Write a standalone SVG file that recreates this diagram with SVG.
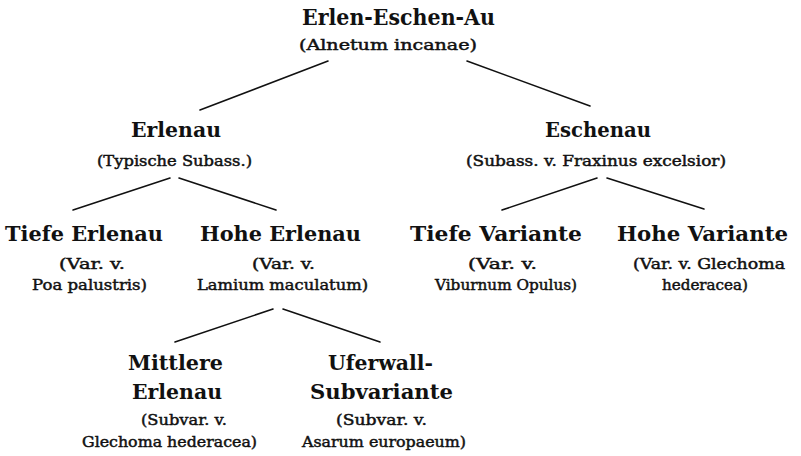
<svg xmlns="http://www.w3.org/2000/svg" width="801" height="456" viewBox="0 0 801 456">
<style>
text{fill:#111;font-family:"DejaVu Serif","Liberation Serif",serif}
.t{font-size:23px;font-weight:bold}
.b{font-size:20px;font-weight:bold}
.s{font-size:14px;stroke:#111;stroke-width:0.45}
line{stroke:#111;stroke-width:1.6;stroke-linecap:round}
</style>
<rect width="801" height="456" fill="#fff"/>
<g id="connectors">
<line x1="328" y1="61" x2="200" y2="110"/>
<line x1="467" y1="61" x2="590" y2="106"/>
<line x1="170" y1="178" x2="73" y2="210"/>
<line x1="179" y1="178" x2="276" y2="210"/>
<line x1="597" y1="178" x2="502" y2="210"/>
<line x1="607" y1="178" x2="704" y2="209"/>
<line x1="273" y1="309" x2="175" y2="342"/>
<line x1="283" y1="309" x2="380" y2="342"/>
</g>
<g id="root">
<text class="t" x="302" y="25" textLength="193" lengthAdjust="spacingAndGlyphs">Erlen-Eschen-Au</text>
<text class="s" x="299" y="50" textLength="178" lengthAdjust="spacingAndGlyphs">(Alnetum incanae)</text>
</g>
<g id="erlenau">
<text class="b" x="131" y="137" textLength="90" lengthAdjust="spacingAndGlyphs">Erlenau</text>
<text class="s" x="97" y="166" textLength="155" lengthAdjust="spacingAndGlyphs">(Typische Subass.)</text>
</g>
<g id="eschenau">
<text class="b" x="545" y="137" textLength="106" lengthAdjust="spacingAndGlyphs">Eschenau</text>
<text class="s" x="466" y="166" textLength="260" lengthAdjust="spacingAndGlyphs">(Subass. v. Fraxinus excelsior)</text>
</g>
<g id="tiefe-erlenau">
<text class="b" x="5" y="241" textLength="158" lengthAdjust="spacingAndGlyphs">Tiefe Erlenau</text>
<text class="s" x="59" y="269" textLength="66" lengthAdjust="spacingAndGlyphs">(Var. v.</text>
<text class="s" x="32" y="290" textLength="115" lengthAdjust="spacingAndGlyphs">Poa palustris)</text>
</g>
<g id="hohe-erlenau">
<text class="b" x="200" y="241" textLength="161" lengthAdjust="spacingAndGlyphs">Hohe Erlenau</text>
<text class="s" x="252" y="269" textLength="63" lengthAdjust="spacingAndGlyphs">(Var. v.</text>
<text class="s" x="197" y="290" textLength="171" lengthAdjust="spacingAndGlyphs">Lamium maculatum)</text>
</g>
<g id="tiefe-variante">
<text class="b" x="410" y="241" textLength="172" lengthAdjust="spacingAndGlyphs">Tiefe Variante</text>
<text class="s" x="468" y="269" textLength="69" lengthAdjust="spacingAndGlyphs">(Var. v.</text>
<text class="s" x="435" y="290" textLength="142" lengthAdjust="spacingAndGlyphs">Viburnum Opulus)</text>
</g>
<g id="hohe-variante">
<text class="b" x="617" y="241" textLength="171" lengthAdjust="spacingAndGlyphs">Hohe Variante</text>
<text class="s" x="633" y="269" textLength="152" lengthAdjust="spacingAndGlyphs">(Var. v. Glechoma</text>
<text class="s" x="662" y="290" textLength="86" lengthAdjust="spacingAndGlyphs">hederacea)</text>
</g>
<g id="mittlere-erlenau">
<text class="b" x="128" y="370" textLength="95" lengthAdjust="spacingAndGlyphs">Mittlere</text>
<text class="b" x="132" y="399" textLength="90" lengthAdjust="spacingAndGlyphs">Erlenau</text>
<text class="s" x="141" y="425" textLength="86" lengthAdjust="spacingAndGlyphs">(Subvar. v.</text>
<text class="s" x="82" y="447" textLength="175" lengthAdjust="spacingAndGlyphs">Glechoma hederacea)</text>
</g>
<g id="uferwall-subvariante">
<text class="b" x="328" y="370" textLength="105" lengthAdjust="spacingAndGlyphs">Uferwall-</text>
<text class="b" x="310" y="399" textLength="143" lengthAdjust="spacingAndGlyphs">Subvariante</text>
<text class="s" x="336" y="425" textLength="91" lengthAdjust="spacingAndGlyphs">(Subvar. v.</text>
<text class="s" x="302" y="447" textLength="164" lengthAdjust="spacingAndGlyphs">Asarum europaeum)</text>
</g>
</svg>
